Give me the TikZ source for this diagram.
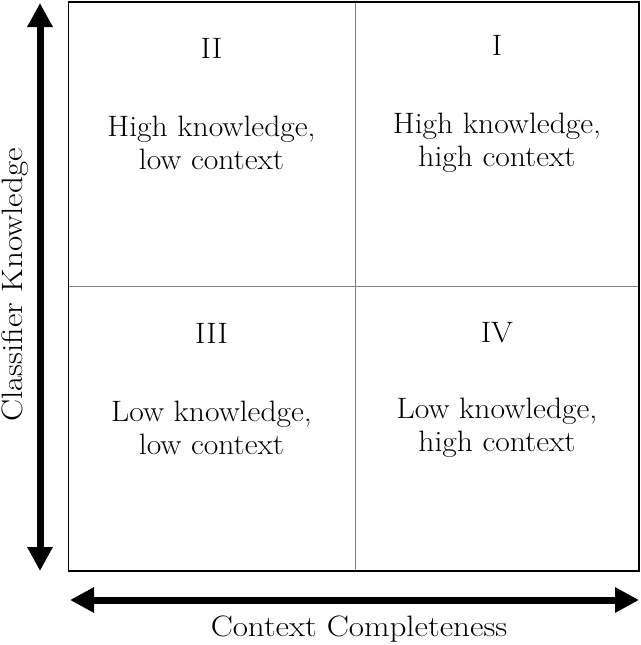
\documentclass[tikz,border=0pt]{standalone}
\usetikzlibrary{arrows.meta}
\newcommand\widetxt[1]{\scalebox{1.07}[1]{#1}}
\newcommand\wideaxis[1]{\scalebox{1.12}[1]{#1}}
\begin{document}
\begin{tikzpicture}[x=1pt,y=-1pt,
  quad/.style={align=center,font=\fontsize{29.5}{33}\selectfont},
  axislabel/.style={font=\fontsize{29.5}{33}\selectfont},
  bigarrow/.style={line width=7pt,{Triangle[length=24pt,width=24pt]}-{Triangle[length=24pt,width=24pt]}},
  divider/.style={draw=gray,line width=1pt}]
\useasboundingbox (0,0) rectangle (640,645);
\coordinate (tl) at (68.5,2);
\coordinate (br) at (639,571);
\draw[line width=1.5pt] (tl) rectangle (br);
\coordinate (vt) at (355,2.7);
\coordinate (vb) at (355,570.3);
\coordinate (hl) at (69.2,286);
\coordinate (hr) at (638.3,286);
\draw[divider] (vt) -- (vb);
\draw[divider] (hl) -- (hr);
\coordinate (at) at (40,3);
\coordinate (ab) at (40,571);
\draw[bigarrow] (at) -- (ab);
\coordinate (al) at (70,600);
\coordinate (ar) at (639,600);
\draw[bigarrow] (al) -- (ar);
\node[quad] (n2) at (211.5,48) {\widetxt{II}};
\node[quad] (t2) at (211.5,143) {\widetxt{High knowledge,}\\\widetxt{low context}};
\node[quad] (n1) at (497,45) {\widetxt{I}};
\node[quad] (t1) at (497,143) {\widetxt{High knowledge,}\\\widetxt{high context}};
\node[quad] (n3) at (211.5,333) {\widetxt{III}};
\node[quad] (t3) at (211.5,428) {\widetxt{Low knowledge,}\\\widetxt{low context}};
\node[quad] (n4) at (497,333) {\widetxt{IV}};
\node[quad] (t4) at (497,428) {\widetxt{Low knowledge,}\\\widetxt{high context}};
\node[axislabel,rotate=90,anchor=north,inner sep=0pt] (yl) at (1.8,285) {\wideaxis{Classifier Knowledge}};
\node[axislabel] (xl) at (359,629) {\wideaxis{Context Completeness}};
\end{tikzpicture}
\end{document}
